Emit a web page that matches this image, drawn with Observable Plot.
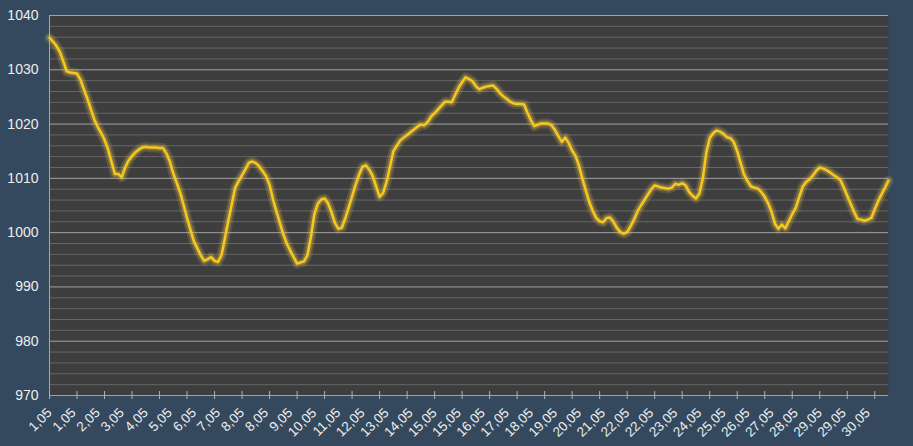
<!DOCTYPE html>
<html><head><meta charset="utf-8">
<script src="https://cdn.jsdelivr.net/npm/d3@7"></script>
<script src="https://cdn.jsdelivr.net/npm/@observablehq/plot@0.6"></script>
<style>
html,body{margin:0;padding:0;background:#34495e;}
#chart svg{display:block}
</style>
</head><body><div id="chart"></div>
<script>
// Pressure (hPa), one reading every 3 hours from 1 May 00:00
const pressure = [
1035.9,1035.2,1034.4,1033.3,1031.6,1029.7,1029.5,1029.4,
1029.3,1028.2,1026.4,1024.7,1022.8,1020.9,1019.5,1018.4,
1017.1,1015.4,1013.1,1010.8,1010.8,1010.2,1012.0,1013.3,
1014.1,1014.8,1015.3,1015.7,1015.8,1015.7,1015.7,1015.7,
1015.6,1015.6,1014.6,1013.1,1010.9,1009.2,1007.4,1005.1,
1002.7,1000.5,998.4,997.1,995.8,994.8,995.1,995.5,
994.8,994.6,995.8,998.9,1002.2,1005.2,1008.3,1009.5,
1010.6,1011.7,1012.9,1013.1,1012.8,1012.2,1011.3,1010.4,
1008.8,1006.1,1003.9,1001.8,999.7,998.0,996.7,995.5,
994.3,994.5,994.7,995.8,999.1,1003.3,1005.3,1006.1,
1006.3,1005.4,1003.8,1001.8,1000.7,1000.9,1002.6,1004.6,
1006.7,1008.8,1010.6,1012.1,1012.4,1011.6,1010.4,1008.5,
1006.6,1007.3,1009.3,1012.1,1015.0,1016.0,1017.0,1017.5,
1018.0,1018.5,1019.0,1019.5,1019.9,1019.8,1020.4,1021.4,
1022.0,1022.7,1023.4,1024.1,1024.1,1024.0,1025.4,1026.7,
1027.7,1028.6,1028.3,1027.9,1027.0,1026.4,1026.7,1026.9,
1027.0,1027.1,1026.5,1025.7,1025.1,1024.6,1024.1,1023.8,
1023.7,1023.7,1023.6,1022.1,1020.7,1019.6,1019.9,1020.1,
1020.1,1020.1,1019.8,1018.9,1017.8,1016.7,1017.5,1016.5,
1015.1,1014.1,1012.3,1009.9,1007.7,1005.6,1004.0,1002.7,
1002.1,1001.9,1002.7,1002.8,1002.0,1000.9,1000.1,999.8,
1000.1,1001.2,1002.4,1003.9,1005.0,1006.0,1007.0,1008.0,
1008.7,1008.5,1008.3,1008.2,1008.1,1008.3,1009.0,1008.8,
1009.1,1008.7,1007.5,1006.8,1006.3,1007.2,1010.0,1014.7,
1017.4,1018.3,1018.8,1018.6,1018.2,1017.6,1017.4,1016.7,
1015.0,1012.8,1010.7,1009.5,1008.5,1008.3,1008.1,1007.5,
1006.6,1005.4,1003.8,1001.6,1000.7,1001.5,1000.8,1002.1,
1003.4,1004.5,1006.5,1008.4,1009.3,1009.8,1010.5,1011.4,
1012.0,1011.8,1011.5,1011.1,1010.6,1010.2,1009.7,1008.3,
1006.8,1005.3,1003.8,1002.5,1002.4,1002.2,1002.4,1002.7,
1004.3,1005.8,1007.1,1008.3,1009.6
];
const startTime = Date.UTC(2021, 4, 1);
const stepHours = 3;
const labelEvery = 7;   // a label every 21 hours
const tickEvery = 8;    // a tick every day
const xLabels = ["1,05","1,05","2,05","3,05","4,05","5,05","6,05","7,05","8,05","8,05",
  "9,05","10,05","11,05","12,05","13,05","14,05","15,05","15,05","16,05","17,05",
  "18,05","19,05","20,05","21,05","22,05","22,05","23,05","24,05","25,05","26,05",
  "27,05","28,05","29,05","29,05","30,05"];
const yMajorTicks = [970,980,990,1000,1010,1020,1030,1040];
const yMinorTicks = [972,974,976,978,982,984,986,988,992,994,996,998,1002,1004,1006,1008,
  1012,1014,1016,1018,1022,1024,1026,1028,1032,1034,1036,1038];

const data = pressure.map((v, i) => ({date: new Date(startTime + i * stepHours * 3600e3), value: v}));
const labelDates = xLabels.map((t, k) => data[k * labelEvery].date);
const labelMap = new Map(labelDates.map((d, k) => [+d, xLabels[k]]));
const dayTicks = data.filter((d, i) => i % tickEvery === 0).map(d => d.date);

const chart = Plot.plot({
  width: 913,
  height: 446,
  marginLeft: 49,
  marginRight: 25,
  marginTop: 15,
  marginBottom: 51,
  style: {background: "#34495e", fontFamily: "'Liberation Sans', Arial, sans-serif", fontSize: "13px", color: "#eeeeee"},
  x: {type: "utc", domain: [data[0].date, data[data.length - 1].date]},
  y: {domain: [970, 1040]},
  marks: [
    Plot.frame({fill: "#3e3e3e", stroke: null}),
    Plot.ruleY(yMinorTicks, {stroke: "#666666", strokeWidth: 1}),
    Plot.ruleY(yMajorTicks, {stroke: "#a0a0a0", strokeWidth: 1}),
    Plot.ruleX([data[0].date], {stroke: "#a8a8a8", strokeWidth: 1}),
    Plot.axisY({ticks: yMajorTicks, tickSize: 0, tickPadding: 11, tickFormat: d => String(d), label: null, fontSize: 14, fill: "#eeeeee"}),
    Plot.axisX({ticks: dayTicks, tickSize: 8, dy: -4, text: null, label: null, stroke: "#b0b0b0"}),
    Plot.axisX({ticks: labelDates, tickSize: 0, tickFormat: d => labelMap.get(+d), rotate: -45, textAnchor: "end", lineAnchor: "middle", tickPadding: 15, label: null, fontSize: 13.5, fill: "#eeeeee"}),
    Plot.line(data, {x: "date", y: "value", stroke: "#d8b850", strokeWidth: 10, strokeOpacity: 0.18, curve: "linear"}),
    Plot.line(data, {x: "date", y: "value", stroke: "#e6c04a", strokeWidth: 6, strokeOpacity: 0.3, curve: "linear"}),
    Plot.line(data, {x: "date", y: "value", stroke: "#f7c81e", strokeWidth: 2.5, curve: "linear"})
  ]
});
document.getElementById("chart").appendChild(chart);
</script>
</body></html>
